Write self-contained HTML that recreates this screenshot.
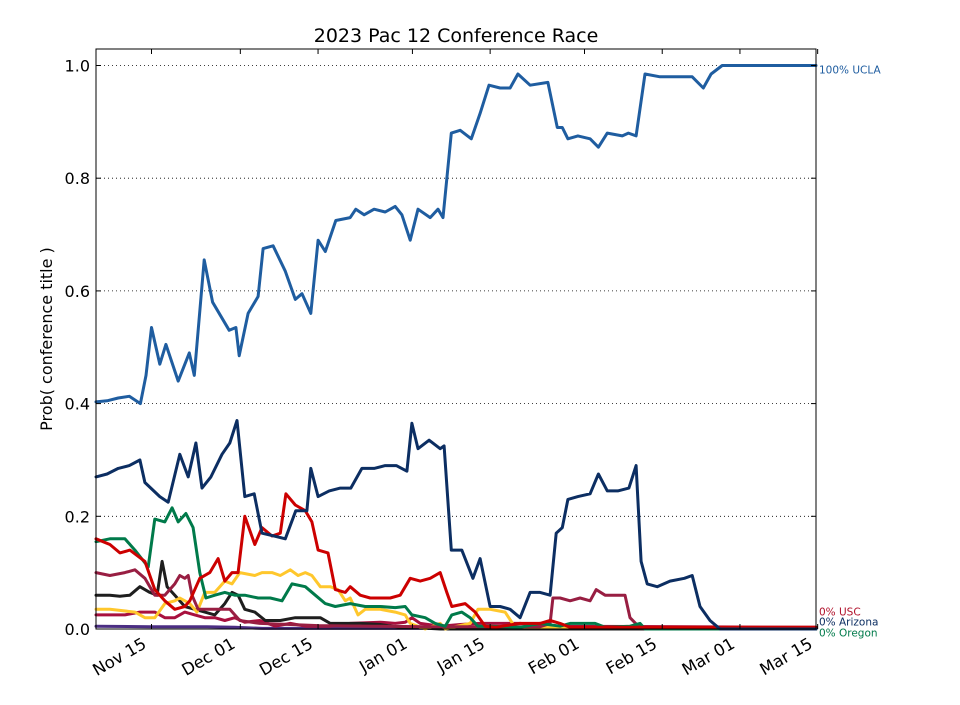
<!DOCTYPE html>
<html><head><meta charset="utf-8"><style>
body{margin:0;background:#fff;}
svg text{font-family:"DejaVu Sans","Liberation Sans",sans-serif;}
</style></head><body>
<svg id="chart" width="960" height="700" viewBox="0 0 960 700" xmlns="http://www.w3.org/2000/svg">
<rect x="0" y="0" width="960" height="700" fill="#fff"/>
<text x="456" y="42" text-anchor="middle" font-size="19">2023 Pac 12 Conference Race</text>
<text transform="translate(52,339) rotate(-90)" text-anchor="middle" font-size="16">Prob( conference title )</text>
<g id="grid"></g><g id="series"></g><g id="axes"></g>
</svg>
<script>
// x domain: days since Nov 05
const xTickLabels = ["Nov 15","Dec 01","Dec 15","Jan 01","Jan 15","Feb 01","Feb 15","Mar 01","Mar 15"];
const xTickDays = [10,26,40,57,71,88,102,116,130];
const yTicks = [0,0.2,0.4,0.6,0.8,1.0];
const yTickLabels = ["0.0","0.2","0.4","0.6","0.8","1.0"];

const uclaDays = [0,2,4,6,8,9,10,11.5,12.6,14.8,16.8,17.7,19.5,21,24,25.2,25.8,27.4,29.2,30.1,31.9,34.1,35.9,37.1,38.7,40,41.3,43.2,45.8,46.8,48.3,50.1,52.1,53.9,55.1,56.6,58,60.2,61.6,62.5,64,65.6,67.6,69.2,70.8,72.8,74.6,76,78.2,81.4,83.1,84,85,86.8,89,90.5,92.1,94.8,95.9,97.3,98.9,101.6,107.4,109.4,110.8,112.8,129.7];
const uclaVals = [0.403,0.405,0.41,0.413,0.40,0.45,0.535,0.47,0.505,0.44,0.49,0.45,0.655,0.58,0.53,0.535,0.485,0.56,0.59,0.675,0.68,0.635,0.585,0.595,0.56,0.69,0.67,0.725,0.73,0.745,0.735,0.745,0.74,0.75,0.735,0.69,0.745,0.73,0.745,0.73,0.88,0.885,0.87,0.915,0.965,0.96,0.96,0.985,0.965,0.97,0.89,0.89,0.87,0.875,0.87,0.855,0.88,0.875,0.88,0.875,0.985,0.98,0.98,0.96,0.985,1.0,1.0];

const arizDays = [0,2,4,6,7.9,8.8,11.5,13,15.1,16.6,18,19.1,20.7,22.7,24.1,25.4,26.8,28.5,29.9,32.1,34.1,36,38,38.7,40,42,44,45.9,47.9,50.1,52.1,54.1,56,56.9,58,60,62,62.7,64,65.9,67.9,69.2,71,72.8,74.6,76.4,78.2,80,81.8,82.9,84,85,86.8,89,90.5,92.1,94,96,97.3,98.2,99.3,101.1,103.4,106,107.4,108.8,110.6,112.4,129.7];
const arizVals = [0.27,0.275,0.285,0.29,0.30,0.26,0.235,0.225,0.31,0.27,0.33,0.25,0.27,0.31,0.33,0.37,0.235,0.24,0.17,0.165,0.16,0.21,0.21,0.285,0.235,0.245,0.25,0.25,0.285,0.285,0.29,0.29,0.28,0.365,0.32,0.335,0.32,0.325,0.14,0.14,0.09,0.125,0.04,0.04,0.035,0.02,0.065,0.065,0.06,0.17,0.18,0.23,0.235,0.24,0.275,0.245,0.245,0.25,0.29,0.12,0.08,0.075,0.085,0.09,0.095,0.04,0.015,0,0];

const oregonDays = [0,2.5,5.2,7,9.4,10.6,12.4,13.7,14.8,16.2,17.5,18.7,19.8,21.4,23.2,25,26.8,29.2,31.4,33.5,35.3,37.7,39.5,41.3,43.1,45.8,48.5,51.2,53.9,55.7,56.9,59.3,61.1,62.9,64.1,65.9,67.4,68.8,71,76.4,80,83.6,85.4,88.1,89.9,91.7,96.2,98,98.9,129.7];
const oregonVals = [0.155,0.16,0.16,0.14,0.11,0.195,0.19,0.215,0.19,0.205,0.18,0.10,0.055,0.06,0.065,0.06,0.06,0.055,0.055,0.05,0.08,0.075,0.06,0.045,0.04,0.045,0.04,0.04,0.038,0.04,0.025,0.02,0.01,0.005,0.025,0.03,0.02,0.005,0.005,0.003,0.01,0.005,0.01,0.01,0.01,0.003,0.005,0.01,0,0];

const redDays = [0,2.5,4.3,6.1,8.8,10.6,12.4,14.2,16,16.9,18.7,20.5,22,23.2,24.5,25.6,26.8,28.6,29.9,31.7,33.2,34.2,35.9,37.7,38.9,40,41.8,43.1,44.9,45.8,47.6,49.4,53,54.8,56.6,58.4,60.2,62,63.2,64.1,66.5,68.3,70.1,71.9,76.4,80,81.8,83.6,85.4,129.7];
const redVals = [0.16,0.15,0.135,0.14,0.12,0.07,0.05,0.035,0.04,0.05,0.09,0.10,0.125,0.085,0.10,0.10,0.20,0.15,0.18,0.165,0.17,0.24,0.22,0.21,0.19,0.14,0.135,0.07,0.065,0.075,0.06,0.055,0.055,0.06,0.09,0.085,0.09,0.10,0.065,0.04,0.045,0.03,0.005,0.003,0.01,0.01,0.015,0.01,0.003,0.003];

const maroonDays = [0,2.5,5.2,7,8.8,10.6,12.4,14.2,15.1,16,16.6,17.3,18.4,20.5,22.3,24.1,25.9,29.5,35,40,50,60,70,80,81.8,82.3,83.6,85.4,87.2,89,90.1,91.7,93.5,95.3,96.2,98,129.7];
const maroonVals = [0.10,0.095,0.10,0.105,0.09,0.06,0.06,0.08,0.095,0.09,0.095,0.06,0.035,0.035,0.035,0.035,0.015,0.01,0.008,0.006,0.005,0.004,0.004,0.004,0.01,0.055,0.055,0.05,0.055,0.05,0.07,0.06,0.06,0.06,0.02,0.002,0.002];

const yellowDays = [0,2.5,4.3,7,8.8,10.6,12.4,14.2,15.1,16.9,18.2,19.6,21.4,23.2,24.5,25.9,28.6,29.9,31.7,33.2,35,36.4,37.7,38.9,40.4,42.2,43.6,44.9,45.8,47.2,48.5,51.2,53.9,55.7,56.6,59.3,62,62.9,67.4,68.8,71,73.7,75.5,129.7];
const yellowVals = [0.035,0.035,0.033,0.03,0.02,0.02,0.045,0.05,0.055,0.045,0.03,0.065,0.065,0.085,0.08,0.10,0.095,0.10,0.10,0.095,0.105,0.095,0.10,0.095,0.075,0.075,0.07,0.05,0.055,0.025,0.035,0.035,0.03,0.025,0.01,0,0.01,0,0.01,0.035,0.035,0.03,0.003,0];

const blackDays = [0,2.5,4.3,6.1,7.9,9.7,11,11.9,12.8,14.2,16,17.8,19.6,21.4,23.2,24.5,25.6,26.8,28.6,30.5,33.2,35.9,38.6,40.4,42.2,44.9,47.6,51.2,54.8,58.4,62,129.7];
const blackVals = [0.06,0.06,0.058,0.06,0.075,0.065,0.06,0.12,0.075,0.06,0.04,0.035,0.03,0.025,0.045,0.065,0.06,0.035,0.03,0.015,0.015,0.02,0.02,0.02,0.01,0.01,0.01,0.008,0.003,0.002,0,0];

const crimsonDays = [0,2.5,5.2,7.9,10.6,12.4,14.2,16,17.8,19.6,21.4,23.2,25,26.8,29.5,32.3,35,37.7,42.2,45.8,51.2,53.9,55.7,56.9,58.4,62,65.6,69.2,76.4,81.8,129.7];
const crimsonVals = [0.025,0.025,0.025,0.03,0.03,0.02,0.02,0.03,0.025,0.02,0.02,0.015,0.02,0.012,0.015,0.005,0.01,0.005,0.005,0.01,0.012,0.01,0.012,0.02,0.01,0.005,0.008,0.01,0.01,0.005,0.003];

const purpleDays = [0,10,20,25,30,60,129.7];
const purpleVals = [0.005,0.004,0.004,0.003,0.001,0.001,0.001];

const L=96,R=816,T=49,B=629;
const xs = d => L + (d/129.7)*(R-L);
const ys = v => 629 - v*563.5;
const NS="http://www.w3.org/2000/svg";
function mk(tag, attrs, parent){const e=document.createElementNS(NS,tag);for(const k in attrs)e.setAttribute(k,attrs[k]);parent.appendChild(e);return e;}

const grid=document.getElementById('grid'), ser=document.getElementById('series'), ax=document.getElementById('axes');
yTicks.forEach((v,i)=>{
  if(v>0){const g=mk('line',{x1:L,x2:R,y1:ys(v),y2:ys(v),stroke:'#000','stroke-width':0.8,'stroke-dasharray':'1,3'},grid);
  
  }
  const t=mk('line',{x1:L,x2:L+5,y1:ys(v),y2:ys(v),stroke:'#000'},ax);
  
  
  const t2=mk('line',{x1:R-5,x2:R,y1:ys(v),y2:ys(v),stroke:'#000'},ax);
  
  
  const lb=mk('text',{x:L-6,y:ys(v)+6,'text-anchor':'end','font-size':16},ax);
  lb.textContent=yTickLabels[i];
  
  
});
xTickDays.forEach((d,i)=>{
  const x=xs(d);
  const t=mk('line',{x1:x,x2:x,y1:B,y2:B-5,stroke:'#000'},ax);
  
  
  const t2=mk('line',{x1:x,x2:x,y1:T,y2:T+5,stroke:'#000'},ax);
  
  
  const lb=mk('text',{x:0,y:0,'text-anchor':'end','font-size':16.5,transform:`translate(${x-4},${B+18}) rotate(-30)`},ax);
  lb.textContent=xTickLabels[i];
  
  
});
const fr=mk('rect',{x:L,y:T,width:R-L,height:B-T,fill:'none',stroke:'#000','stroke-width':1},ax);



const seriesList=[
 ['purple',purpleDays,purpleVals,'#4b2e83'],
 ['crimson',crimsonDays,crimsonVals,'#a8103e'],
 ['black',blackDays,blackVals,'#1e1e1e'],
 ['yellow',yellowDays,yellowVals,'#ffc72c'],
 ['maroon',maroonDays,maroonVals,'#981e42'],
 ['oregon',oregonDays,oregonVals,'#007a4a'],
 ['red',redDays,redVals,'#cc0000'],
 ['arizona',arizDays,arizVals,'#0c2e62'],
 ['ucla',uclaDays,uclaVals,'#1f5da0']
];
seriesList.forEach(([n,ds,vs,c])=>{
  const pts=ds.map((d,i)=>xs(d).toFixed(1)+','+ys(vs[i]).toFixed(1)).join(' ');
  const p=mk('polyline',{points:pts,fill:'none',stroke:c,'stroke-width':3,'stroke-linejoin':'round','stroke-linecap':'round'},ser);
  
  
});
const labels=[['100% UCLA',70,'#1f5da0'],['0% USC',612,'#b0102a'],['0% Arizona',622,'#0c2e62'],['0% Oregon',633,'#007a4a']];
labels.forEach(([s,y,c])=>{
  const t=mk('text',{x:819,y:y+3.5,'font-size':10.5,fill:c},ax);
  t.textContent=s;
  
  
});
</script>
</body></html>
